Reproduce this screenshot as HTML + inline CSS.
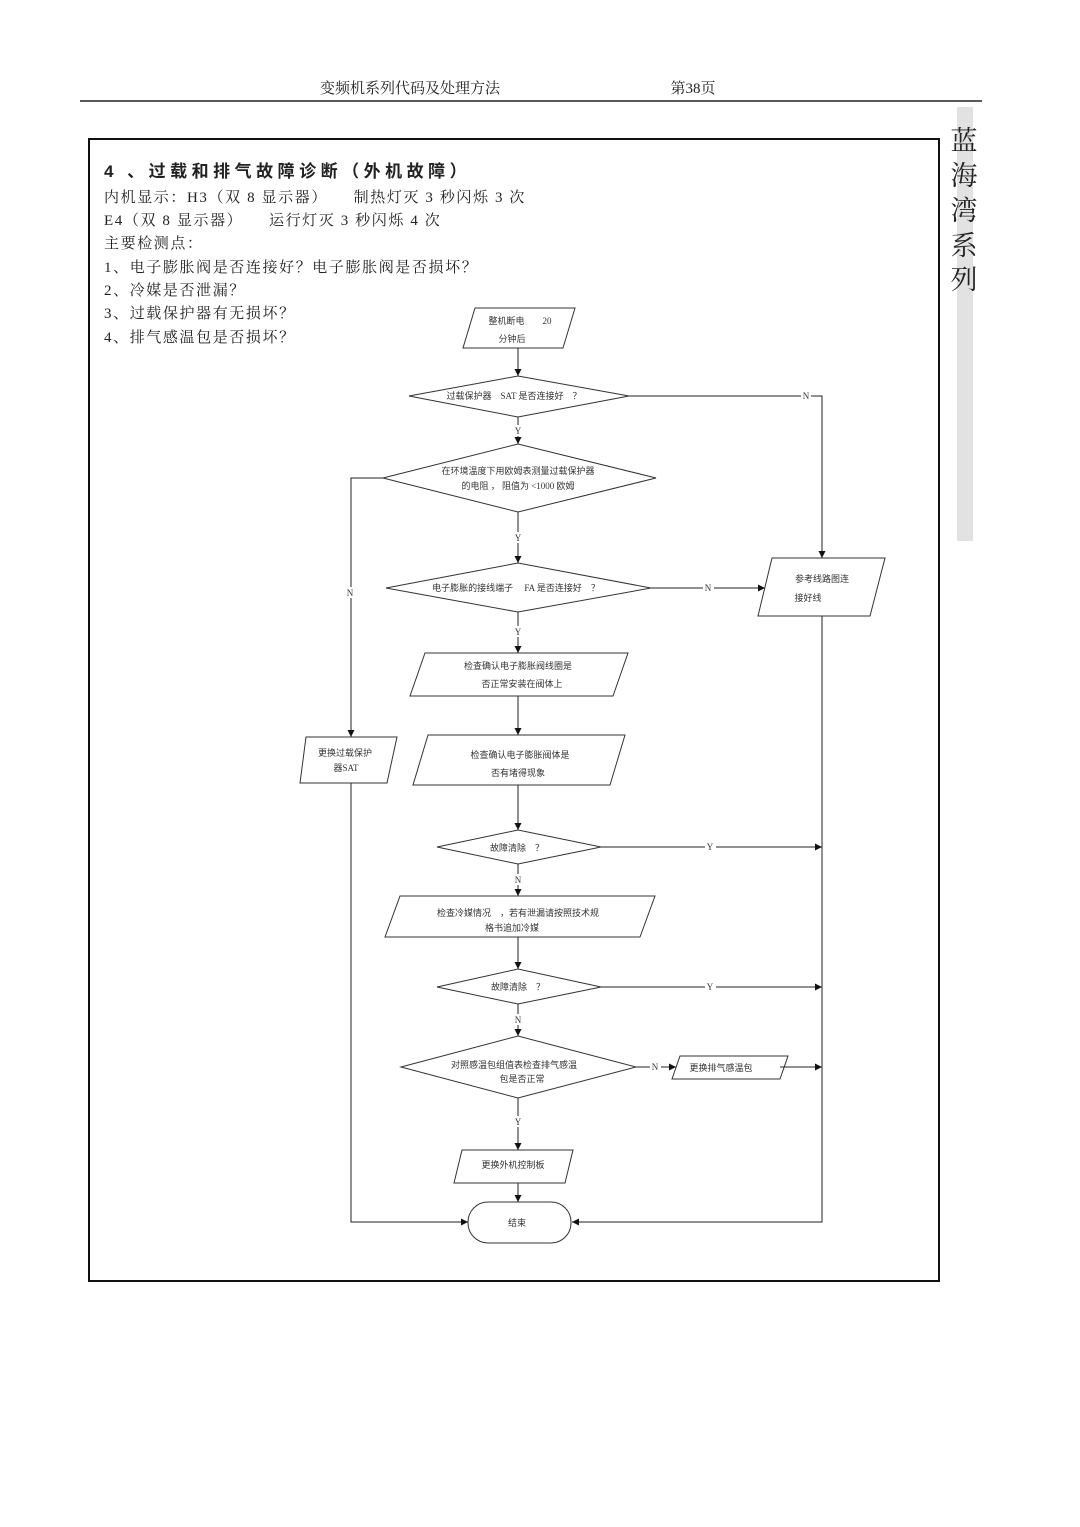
<!DOCTYPE html>
<html><head><meta charset="utf-8"><style>
html,body{margin:0;padding:0;background:#fff;}
svg{display:block;}
text{font-family:"Liberation Serif","Noto Serif CJK SC","Noto Sans CJK SC",serif;fill:#222;}
.s{font-family:"Liberation Serif","Noto Sans CJK SC",sans-serif;font-size:9px;fill:#333;}
</style></head><body>
<svg width="1080" height="1527" viewBox="0 0 1080 1527" xmlns="http://www.w3.org/2000/svg">
<defs><marker id="a" viewBox="0 0 10 10" refX="10" refY="5" markerWidth="7" markerHeight="7" orient="auto"><path d="M0,0 L10,5 L0,10 z" fill="#111"/></marker></defs>
<!-- header -->
<text x="410" y="93" font-size="15" text-anchor="middle">变频机系列代码及处理方法</text>
<text x="693" y="93" font-size="15" text-anchor="middle">第38页</text>
<line x1="80" y1="101" x2="982" y2="101" stroke="#222" stroke-width="1.5"/>
<!-- sidebar -->
<rect x="957" y="107" width="16" height="434" fill="#e2e2e2"/>
<g font-size="27" text-anchor="middle" fill="#222">
<text x="964" y="150">蓝</text><text x="964" y="185">海</text><text x="964" y="220">湾</text><text x="964" y="255">系</text><text x="964" y="289">列</text>
</g>
<!-- frame -->
<rect x="89" y="139" width="850" height="1142" fill="none" stroke="#111" stroke-width="2"/>
<!-- left text -->
<text x="104" y="177" font-size="17" font-weight="bold" style="font-family:'Liberation Sans','Noto Sans CJK SC',sans-serif;letter-spacing:4.5px">4 、过载和排气故障诊断（外机故障）</text>
<g font-size="15" fill="#333" style="letter-spacing:1.6px">
<text x="104" y="202">内机显示：H3（双 8 显示器）　　制热灯灭 3 秒闪烁 3 次</text>
<text x="104" y="225">E4（双 8 显示器）　　运行灯灭 3 秒闪烁 4 次</text>
<text x="104" y="248">主要检测点：</text>
<text x="104" y="272">1、电子膨胀阀是否连接好？电子膨胀阀是否损坏？</text>
<text x="104" y="295">2、冷媒是否泄漏？</text>
<text x="104" y="318">3、过载保护器有无损坏？</text>
<text x="104" y="342">4、排气感温包是否损坏？</text>
</g>
<!-- flowchart shapes -->
<g fill="none" stroke="#333" stroke-width="1">
<polygon points="475,308 575,308 563,348 463,348"/>
<polygon points="409,396 518,376 629,396 518,417"/>
<polygon points="383,478 518,444 656,478 518,512"/>
<polygon points="386,588 518,563 651,588 518,612"/>
<polygon points="772,558 885,558 870,616 758,616"/>
<polygon points="425,653 628,653 613,696 410,696"/>
<polygon points="428,735 625,735 610,785 413,785"/>
<polygon points="306,737 397,737 387,783 300,783"/>
<polygon points="437,847 518,830 601,847 518,864"/>
<polygon points="400,896 655,896 640,937 385,937"/>
<polygon points="437,987 518,969 601,987 518,1004"/>
<polygon points="401,1067 518,1036 636,1067 518,1098"/>
<polygon points="680,1056 788,1056 780,1079 672,1079"/>
<polygon points="462,1150 573,1150 565,1183 454,1183"/>
<rect x="468" y="1202" width="103" height="41" rx="20"/>
</g>
<!-- connectors -->
<g fill="none" stroke="#222" stroke-width="1">
<line x1="518" y1="348" x2="518" y2="376" marker-end="url(#a)"/>
<line x1="518" y1="417" x2="518" y2="444" marker-end="url(#a)"/>
<line x1="518" y1="512" x2="518" y2="563" marker-end="url(#a)"/>
<line x1="518" y1="612" x2="518" y2="653" marker-end="url(#a)"/>
<line x1="518" y1="696" x2="518" y2="735" marker-end="url(#a)"/>
<line x1="518" y1="785" x2="518" y2="830" marker-end="url(#a)"/>
<line x1="518" y1="864" x2="518" y2="896" marker-end="url(#a)"/>
<line x1="518" y1="937" x2="518" y2="969" marker-end="url(#a)"/>
<line x1="518" y1="1004" x2="518" y2="1036" marker-end="url(#a)"/>
<line x1="518" y1="1098" x2="518" y2="1150" marker-end="url(#a)"/>
<line x1="518" y1="1183" x2="518" y2="1202" marker-end="url(#a)"/>
<polyline points="629,396 822,396 822,558" marker-end="url(#a)"/>
<line x1="651" y1="588" x2="765" y2="588" marker-end="url(#a)"/>
<polyline points="822,616 822,1222 572,1222" marker-end="url(#a)"/>
<polyline points="383,478 351,478 351,737" marker-end="url(#a)"/>
<polyline points="351,783 351,1222 468,1222" marker-end="url(#a)"/>
<line x1="601" y1="847" x2="822" y2="847" marker-end="url(#a)"/>
<line x1="601" y1="987" x2="822" y2="987" marker-end="url(#a)"/>
<line x1="636" y1="1067" x2="676" y2="1067" marker-end="url(#a)"/>
<line x1="780" y1="1067" x2="822" y2="1067" marker-end="url(#a)"/>
</g>
<!-- connector labels -->
<g class="s" font-size="9" text-anchor="middle">
<rect x="801" y="390" width="10" height="11" fill="#fff"/><text class="s" x="806" y="399">N</text>
<rect x="512" y="425" width="11" height="11" fill="#fff"/><text class="s" x="518" y="434">Y</text>
<rect x="512" y="532" width="11" height="11" fill="#fff"/><text class="s" x="518" y="541">Y</text>
<rect x="703" y="582" width="11" height="11" fill="#fff"/><text class="s" x="708" y="591">N</text>
<rect x="345" y="587" width="11" height="11" fill="#fff"/><text class="s" x="350" y="596">N</text>
<rect x="512" y="626" width="11" height="11" fill="#fff"/><text class="s" x="518" y="635">Y</text>
<rect x="705" y="841" width="11" height="11" fill="#fff"/><text class="s" x="710" y="850">Y</text>
<rect x="512" y="874" width="11" height="11" fill="#fff"/><text class="s" x="518" y="883">N</text>
<rect x="705" y="981" width="11" height="11" fill="#fff"/><text class="s" x="710" y="990">Y</text>
<rect x="512" y="1014" width="11" height="11" fill="#fff"/><text class="s" x="518" y="1023">N</text>
<rect x="650" y="1061" width="11" height="11" fill="#fff"/><text class="s" x="655" y="1070">N</text>
<rect x="512" y="1116" width="11" height="11" fill="#fff"/><text class="s" x="518" y="1125">Y</text>
</g>
<!-- node text -->
<g class="s" text-anchor="middle">
<text class="s" x="520" y="324">整机断电　　20</text>
<text class="s" x="512" y="342">分钟后</text>
<text class="s" x="514" y="399">过载保护器　SAT 是否连接好　？</text>
<text class="s" x="518" y="474">在环境温度下用欧姆表测量过载保护器</text>
<text class="s" x="518" y="489">的电阻 ， 阻值为 &lt;1000 欧姆</text>
<text class="s" x="516" y="591">电子膨胀的接线端子　 FA 是否连接好　？</text>
<text class="s" x="822" y="582">参考线路图连</text>
<text class="s" x="808" y="601">接好线</text>
<text class="s" x="518" y="669">检查确认电子膨胀阀线圈是</text>
<text class="s" x="522" y="687">否正常安装在阀体上</text>
<text class="s" x="520" y="758">检查确认电子膨胀阀体是</text>
<text class="s" x="518" y="776">否有堵得现象</text>
<text class="s" x="345" y="756">更换过载保护</text>
<text class="s" x="346" y="771">器SAT</text>
<text class="s" x="517" y="851">故障清除　？</text>
<text class="s" x="518" y="916">检查冷媒情况　，若有泄漏请按照技术规</text>
<text class="s" x="512" y="931">格书追加冷媒</text>
<text class="s" x="518" y="990">故障清除　？</text>
<text class="s" x="514" y="1068">对照感温包组值表检查排气感温</text>
<text class="s" x="522" y="1082">包是否正常</text>
<text class="s" x="721" y="1071">更换排气感温包</text>
<text class="s" x="513" y="1168">更换外机控制板</text>
<text class="s" x="517" y="1226">结束</text>
</g>
</svg>
</body></html>
